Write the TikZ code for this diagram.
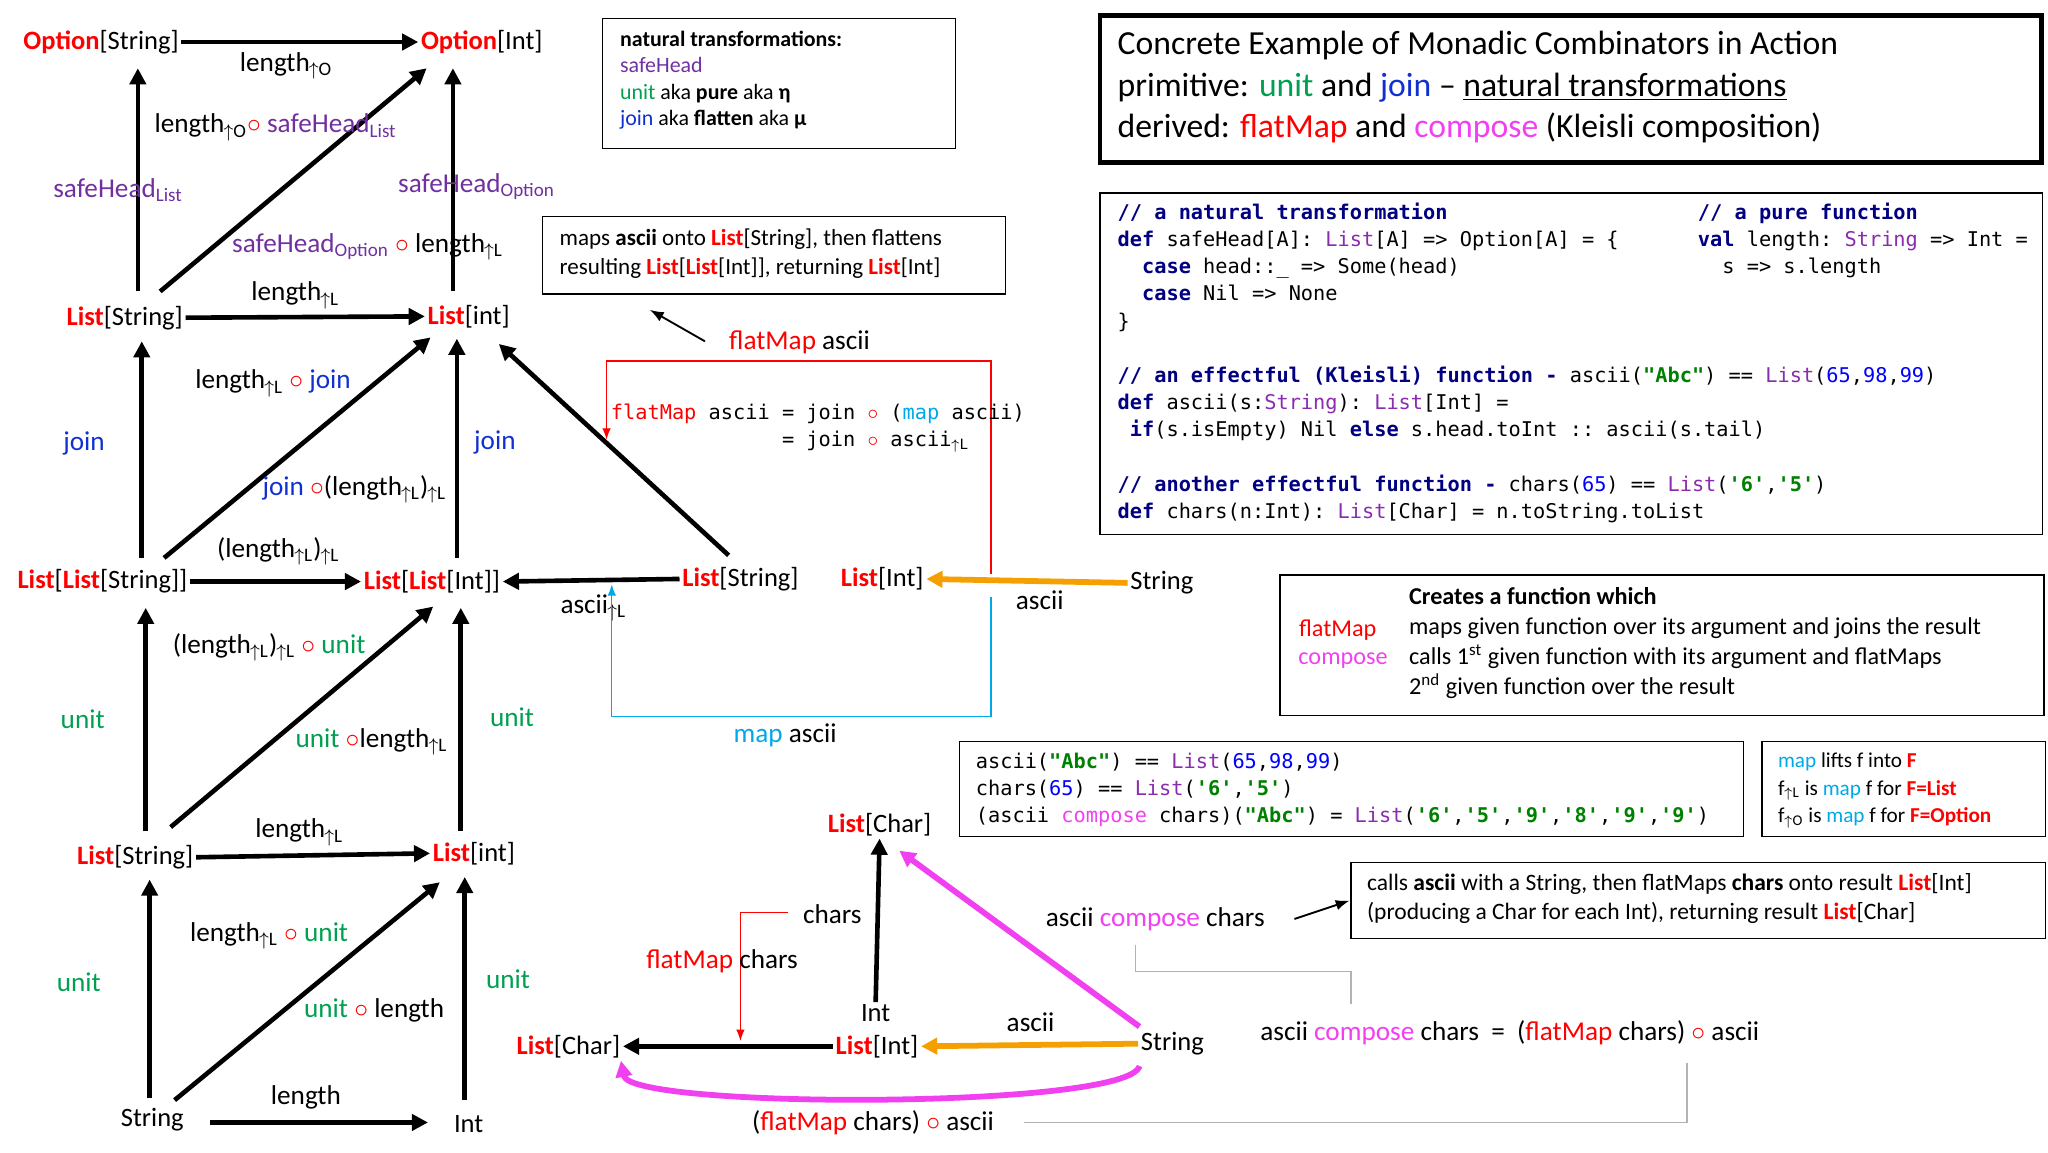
\documentclass[tikz,border=0pt]{standalone}
\usepackage{fontspec}
\setmainfont{Carlito}
\setmonofont{DejaVu Sans Mono}
\usetikzlibrary{arrows.meta}
\definecolor{pur}{HTML}{7030A0}
\definecolor{grn}{HTML}{00A050}
\definecolor{blu}{HTML}{1030D0}
\definecolor{mag}{HTML}{F040F0}
\definecolor{cya}{HTML}{00A8E8}
\definecolor{org}{HTML}{F5A000}
\definecolor{kw}{HTML}{000080}
\definecolor{ty}{HTML}{8A2BB0}
\definecolor{st}{HTML}{008000}
\definecolor{nm}{HTML}{0000FF}
\newcommand\ua[1]{\textsubscript{\kern-0.05em$\uparrow$#1}}
\newcommand\cmp{{\color{red}$\circ$}}
\newcommand\Ls{\textcolor{red}{\textbf{List}}}
\newcommand\Os{\textcolor{red}{\textbf{Option}}}
\newcommand\kwd[1]{\textcolor{kw}{\textbf{#1}}}
\newcommand\tyc[1]{\textcolor{ty}{#1}}
\newcommand\nmc[1]{\textcolor{nm}{#1}}
\newcommand\stc[1]{\textcolor{st}{\textbf{#1}}}
\begin{document}
\begin{tikzpicture}[x=0.02cm,y=-0.02cm,
  lb/.style={font=\fontsize{11.8}{14}\selectfont,inner sep=1pt},
  ob/.style={font=\fontsize{11.5}{14}\selectfont,inner sep=1pt},
  ar/.style={-{Triangle[length=7pt,width=7pt]},line width=2pt},
  box/.style={draw,line width=0.6pt},
  code/.style={font=\fontsize{8.8}{11.8}\selectfont\ttfamily,align=left,anchor=north west,inner sep=0pt},
  bt/.style={font=\fontsize{9.8}{12.5}\selectfont,align=left,anchor=north west,inner sep=0pt}]
\useasboundingbox (0,0) rectangle (1560,878);
% objects
\node[ob] (OS) at (77,32) {\Os[String]};
\node[ob] (OI) at (367,32) {\Os[Int]};
\node[ob] (LS1) at (95,242) {\Ls[String]};
\node[ob] (LI1) at (357,241) {\Ls[int]};
\node[ob] (LLS) at (78,443) {\Ls[\Ls[String]]};
\node[ob] (LLI) at (329,443) {\Ls[\Ls[Int]]};
\node[ob] (LS2) at (103,653) {\Ls[String]};
\node[ob] (LI2) at (361,650) {\Ls[int]};
\node[ob] (S0) at (116,853) {String};
\node[ob] (I0) at (357,856) {Int};
\node[ob] (LS3) at (564,441) {\Ls[String]};
\node[ob] (LIn) at (672,441) {\Ls[Int]};
\node[ob] (S2) at (885,444) {String};
% arrows
\draw[ar] (OS.east) -- (OI.west);
\draw[ar] (105,222) -- (105,52);
\draw[ar] (345,222) -- (345,52);
\draw[ar] (122,222) -- (325,52);
\draw[ar] (LS1.east) -- (LI1.west);
\draw[ar] (108,425) -- (108,260);
\draw[ar] (348,425) -- (348,258);
\draw[ar] (125,425) -- (328,257);
\draw[ar] (555,423) -- (380,262);
\draw[ar] (LLS.east) -- (LLI.west);
\draw[ar] (LS3.west) -- (LLI.east);
\draw[ar,org,line width=2.5pt] (S2.west) -- (LIn.east);
\draw[ar] (111,633) -- (111,463);
\draw[ar] (351,633) -- (351,463);
\draw[ar] (130,630) -- (330,462);
\draw[ar] (LS2.east) -- (LI2.west);
\draw[ar] (114,836) -- (114,670);
\draw[ar] (354,838) -- (354,668);
\draw[ar] (133,838) -- (335,672);
\draw[ar] (160,855) -- (326,855);
% labels
\node[lb] at (218,50) {length\ua{O}};
\node[lb,text=pur] at (90,145) {safeHead\textsubscript{List}};
\node[lb,text=pur] at (363,142) {safeHead\textsubscript{Option}};
\node[lb] at (210,97) {length\ua{O}\cmp\ \textcolor{pur}{safeHead\textsubscript{List}}};
\node[lb] at (280,188) {\textcolor{pur}{safeHead\textsubscript{Option}} \cmp\ length\ua{L}};
\node[lb] at (225,225) {length\ua{L}};
\node[lb,text=blu] at (64,338) {join};
\node[lb,text=blu] at (377,337) {join};
\node[lb] at (208,292) {length\ua{L} \cmp\ \textcolor{blu}{join}};
\node[lb] at (270,373) {\textcolor{blu}{join} \cmp(length\ua{L})\ua{L}};
\node[lb] at (212,420) {(length\ua{L})\ua{L}};
\node[lb] at (452,463) {ascii\ua{L}};
\node[lb] at (792,457) {ascii};
\node[lb,text=grn] at (63,548) {unit};
\node[lb,text=grn] at (390,546) {unit};
\node[lb] at (205,493) {(length\ua{L})\ua{L} \cmp\ \textcolor{grn}{unit}};
\node[lb] at (283,565) {\textcolor{grn}{unit} \cmp length\ua{L}};
\node[lb] at (228,634) {length\ua{L}};
\node[lb,text=grn] at (60,748) {unit};
\node[lb,text=grn] at (387,746) {unit};
\node[lb] at (205,713) {length\ua{L} \cmp\ \textcolor{grn}{unit}};
\node[lb] at (285,770) {\textcolor{grn}{unit} \cmp\ length};
\node[lb] at (233,836) {length};
% red / blue boxes
\draw[red,line width=0.6pt,-{Latex[length=5pt]}] (755,437) -- (755,275) -- (462,275) -- (462,335);
\node[lb] at (609,261) {\textcolor{red}{flatMap} ascii};
\draw[line width=0.8pt,-{Latex[length=6pt]}] (537,260) -- (495,236);
\draw[cya,line width=0.6pt,-{Latex[length=5pt]}] (755,455) -- (755,546) -- (466,546) -- (466,445);
\node[lb] at (598,560) {\textcolor{cya}{map} ascii};
\node[code] at (465,307) {\textcolor{red}{flatMap} ascii = join \cmp\ (\textcolor{cya}{map} ascii)\\\phantom{flatMap ascii }= join \cmp\ ascii\ua{L}};
% boxes
\draw[box] (459,14) rectangle (728,113);
\node[bt,font=\fontsize{9.5}{11.5}\selectfont] at (472,23) {\textbf{natural transformations:}\\\textcolor{pur}{safeHead}\\\textcolor{grn}{unit} aka \textbf{pure} aka \textbf{η}\\\textcolor{blu}{join} aka \textbf{flatten} aka \textbf{μ}};
\draw[box] (413,165) rectangle (766,224);
\node[bt,font=\fontsize{10}{12.5}\selectfont] at (426,174) {maps \textbf{ascii} onto \Ls[String], then flattens\\resulting \Ls[\Ls[Int]], returning \Ls[Int]};
\draw[line width=2pt] (838,12) rectangle (1555,124);
\node[bt,font=\fontsize{14.6}{18.2}\selectfont] at (851,23) {Concrete Example of Monadic Combinators in Action\\primitive: \textcolor{grn}{unit} and \textcolor{blu}{join} -- \underline{natural transformations}\\derived: \textcolor{red}{flatMap} and \textcolor{mag}{compose} (Kleisli composition)};
\draw[box] (838,147) rectangle (1556,407);
\node[code] at (851,154) {\kwd{// a natural transformation}\\
\kwd{def} safeHead[A]: \tyc{List}[A] => Option[A] = \{\\
\ \ \kwd{case} head::\_ => Some(head)\\
\ \ \kwd{case} Nil => None\\
\}\\
\strut\\
\kwd{// an effectful (Kleisli) function - }ascii(\stc{"Abc"}) == \tyc{List}(\nmc{65},\nmc{98},\nmc{99})\\
\kwd{def} ascii(s:\tyc{String}): \tyc{List}[Int] =\\
\ \kwd{if}(s.isEmpty) Nil \kwd{else} s.head.toInt :: ascii(s.tail)\\
\strut\\
\kwd{// another effectful function - }chars(\nmc{65}) == \tyc{List}(\stc{'6'},\stc{'5'})\\
\kwd{def} chars(n:Int): \tyc{List}[Char] = n.toString.toList};
\node[code] at (1293,154) {\kwd{// a pure function}\\\kwd{val} length: \tyc{String} => Int =\\\ \ s => s.length};
\draw[box] (975,438) rectangle (1557,545);
\node[bt,font=\fontsize{10.5}{13}\selectfont] at (1073,447) {\textbf{Creates a function which}\\maps given function over its argument and joins the result\\calls 1\textsuperscript{st} given function with its argument and flatMaps\\2\textsuperscript{nd} given function over the result};
\node[lb,font=\fontsize{10.5}{13}\selectfont,text=red] at (1019,480) {flatMap};
\node[lb,font=\fontsize{10.5}{13}\selectfont,text=mag] at (1023,503) {compose};
\draw[box] (731,565) rectangle (1328,637);
\node[code] at (743,573) {ascii(\stc{"Abc"}) == \tyc{List}(\nmc{65},\nmc{98},\nmc{99})\\chars(\nmc{65}) == \tyc{List}(\stc{'6'},\stc{'5'})\\(ascii \textcolor{mag}{compose} chars)(\stc{"Abc"}) = \tyc{List}(\stc{'6'},\stc{'5'},\stc{'9'},\stc{'8'},\stc{'9'},\stc{'9'})};
\draw[box] (1342,565) rectangle (1558,637);
\node[bt,font=\fontsize{9.2}{12}\selectfont] at (1354,573) {\textcolor{cya}{map} lifts f into \textcolor{red}{\textbf{F}}\\f\ua{L} is \textcolor{cya}{map} f for \textcolor{red}{\textbf{F=List}}\\f\ua{O} is \textcolor{cya}{map} f for \textcolor{red}{\textbf{F=Option}}};
\draw[box] (1029,657) rectangle (1558,715);
\node[bt,font=\fontsize{10.2}{12.5}\selectfont] at (1041,665) {calls \textbf{ascii} with a String, then flatMaps \textbf{chars} onto result \Ls[Int]\\(producing a Char for each Int), returning result \Ls[Char]};
% bottom diagram
\node[ob] (LC1) at (670,628) {\Ls[Char]};
\node[ob] (I3) at (667,772) {Int};
\node[ob] (LI3) at (668,797) {\Ls[Int]};
\node[ob] (LC2) at (433,797) {\Ls[Char]};
\node[ob] (S3) at (893,795) {String};
\draw[ar] (I3.north) -- (LC1.south);
\draw[ar,org,line width=2.5pt] (S3.west) -- (LI3.east);
\draw[ar] (LI3.west) -- (LC2.east);
\draw[ar,mag,line width=2.5pt] (868,782) -- (685,648);
\draw[mag,line width=2.5pt,-{Triangle[length=7pt,width=7pt]}] (868,812) .. controls (860,845) and (480,845) .. (473,808);
\node[lb] at (634,696) {chars};
\node[lb] at (785,779) {ascii};
\draw[red,line width=0.6pt,-{Latex[length=5pt]}] (600,695) -- (564,695) -- (564,793);
\node[lb] at (550,732) {\textcolor{red}{flatMap} chars};
\node[lb] at (880,700) {ascii \textcolor{mag}{compose} chars};
\draw[line width=0.8pt,-{Latex[length=6pt]}] (986,700) -- (1028,686);
\node[lb] at (1150,787) {ascii \textcolor{mag}{compose} chars \ = \ (\textcolor{red}{flatMap} chars) \cmp\ ascii};
\node[lb] at (665,855) {(\textcolor{red}{flatMap} chars) \cmp\ ascii};
\draw[gray!60,line width=0.6pt] (865,720) -- (865,740) -- (1029,740) -- (1029,765);
\draw[gray!60,line width=0.6pt] (780,855) -- (1285,855) -- (1285,810);
\end{tikzpicture}
\end{document}
